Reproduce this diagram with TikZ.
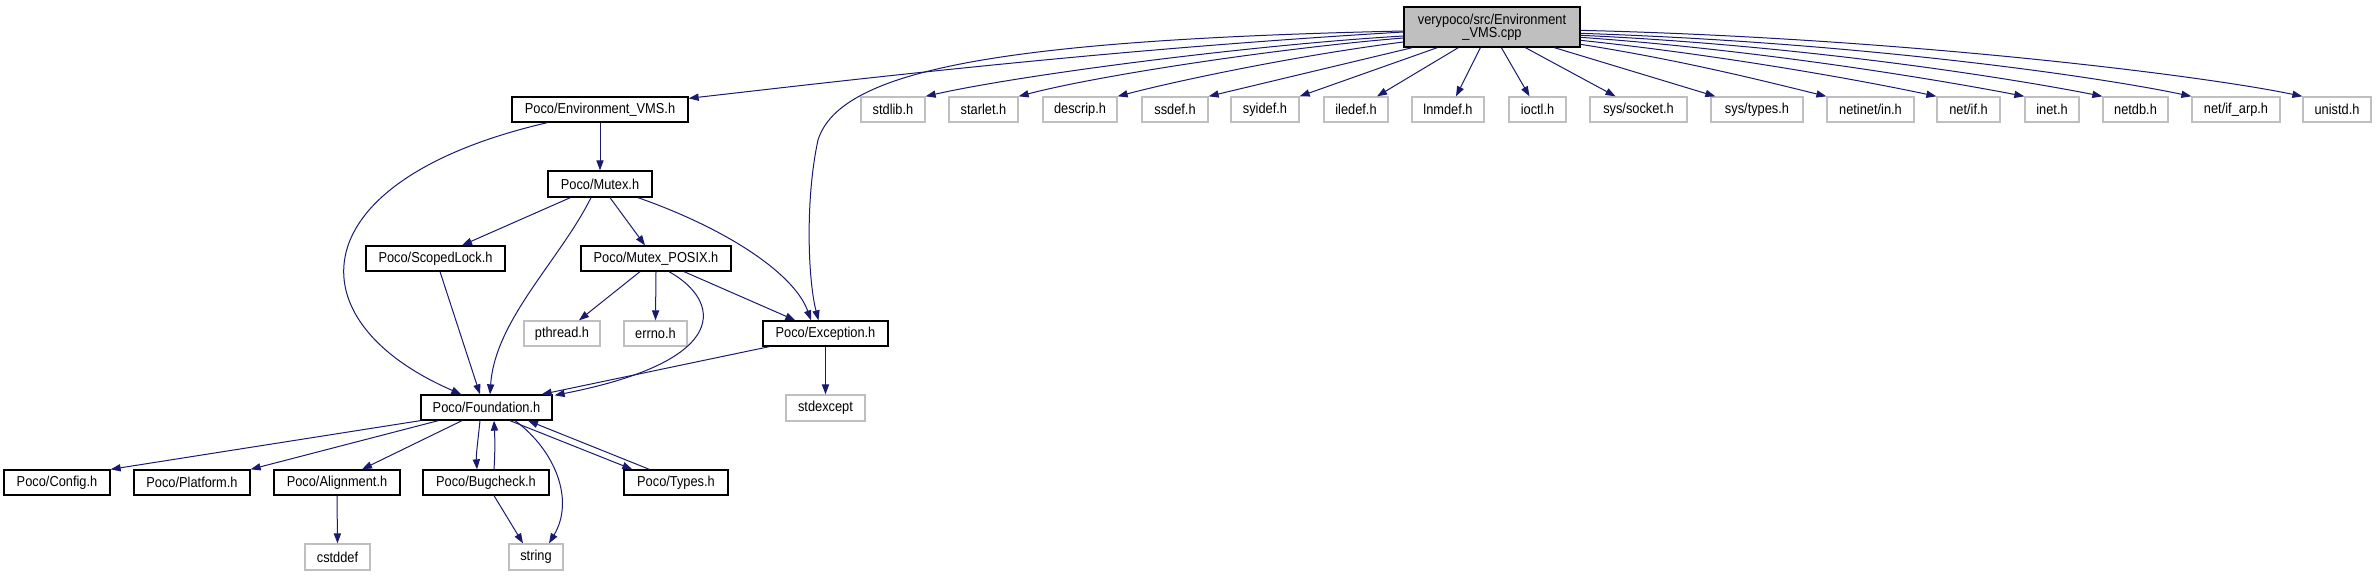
\documentclass[tikz,border=0pt]{standalone}
\usepackage{fontspec}
\setmainfont{Liberation Sans}[FakeStretch=0.89]
\usetikzlibrary{arrows.meta,calc}
\definecolor{edgeblue}{HTML}{191970}
\definecolor{greyline}{HTML}{BFBFBF}
\definecolor{topfill}{HTML}{BFBFBF}
\tikzset{
  nd/.style={draw=black, line width=0.65pt, inner sep=0pt, font=\fontsize{7.2}{6.7}\selectfont, text=black},
  gy/.style={draw=greyline, line width=0.65pt, inner sep=0pt, font=\fontsize{7.2}{6.7}\selectfont, text=black},
  tp/.style={nd, fill=topfill, align=center},
  edge/.style={draw=edgeblue, line width=0.5pt, -{Triangle[length=5pt,width=3.6pt]}}
}
\newcommand\bx[7]{\node[#7, minimum width={(#4-#2)*0.5pt}, minimum height={(#5-#3)*0.5pt}] (#1) at ({(#2+#4)/2},{(#3+#5)/2}) {#6};}
\begin{document}
\begin{tikzpicture}[x=0.5pt,y=-0.5pt]
\useasboundingbox (0,0) rectangle (2376,576);
% nodes
\bx{T}{1404}{7}{1580}{47}{verypoco/src/Environment\\\_VMS.cpp}{tp}
\bx{E}{512}{97}{688}{122}{Poco/Environment\_VMS.h}{nd}
\bx{stdlib}{861}{97}{925}{122}{stdlib.h}{gy}
\bx{starlet}{949}{97}{1018}{122}{starlet.h}{gy}
\bx{descrip}{1043}{97}{1117}{122}{descrip.h}{gy}
\bx{ssdef}{1142}{97}{1208}{122}{ssdef.h}{gy}
\bx{syidef}{1231}{97}{1299}{122}{syidef.h}{gy}
\bx{iledef}{1324}{97}{1388}{122}{iledef.h}{gy}
\bx{lnmdef}{1412}{97}{1484}{122}{lnmdef.h}{gy}
\bx{ioctl}{1509}{97}{1566}{122}{ioctl.h}{gy}
\bx{socket}{1590}{97}{1687}{122}{sys/socket.h}{gy}
\bx{systypes}{1711}{97}{1803}{122}{sys/types.h}{gy}
\bx{netinet}{1827}{97}{1914}{122}{netinet/in.h}{gy}
\bx{netif}{1937}{97}{2000}{122}{net/if.h}{gy}
\bx{inet}{2025}{97}{2079}{122}{inet.h}{gy}
\bx{netdb}{2103}{97}{2168}{122}{netdb.h}{gy}
\bx{ifarp}{2192}{97}{2280}{122}{net/if\_arp.h}{gy}
\bx{unistd}{2303}{97}{2371}{122}{unistd.h}{gy}
\bx{M}{548}{171}{652}{197}{Poco/Mutex.h}{nd}
\bx{S}{366}{246}{505}{271}{Poco/ScopedLock.h}{nd}
\bx{P}{581}{246}{731}{271}{Poco/Mutex\_POSIX.h}{nd}
\bx{pthread}{524}{321}{600}{346}{pthread.h}{gy}
\bx{errno}{624}{321}{687}{346}{errno.h}{gy}
\bx{X}{763}{321}{888}{346}{Poco/Exception.h}{nd}
\bx{F}{421}{395}{552}{420}{Poco/Foundation.h}{nd}
\bx{stdexcept}{786}{395}{865}{421}{stdexcept}{gy}
\bx{Config}{4}{470}{110}{495}{Poco/Config.h}{nd}
\bx{Platform}{134}{470}{250}{495}{Poco/Platform.h}{nd}
\bx{Align}{274}{470}{400}{495}{Poco/Alignment.h}{nd}
\bx{Bug}{423}{470}{549}{495}{Poco/Bugcheck.h}{nd}
\bx{Types}{624}{470}{728}{495}{Poco/Types.h}{nd}
\bx{cstddef}{305}{544}{370}{570}{cstddef}{gy}
\bx{string}{509}{544}{563}{570}{string}{gy}
% edges from top node
\draw[edge] ($(T.west)+(0,5)$) .. controls (1100,50) and (850,80) .. ($(E.north east)+(0,2)$);
\draw[edge] ($(T.west)+(0,4)$) .. controls (1000,40) and (840,70) .. (818,140) .. controls (805,200) and (808,280) .. ($(X.north)+(-7,0)$);
\draw[edge] ($(T.west)+(0,9)$) .. controls (1250,45) and (1020,75) .. (stdlib.north east);
\draw[edge] ($(T.west)+(0,11)$) .. controls (1280,48) and (1100,75) .. (starlet.north east);
\draw[edge] ($(T.west)+(0,15)$) .. controls (1300,55) and (1180,80) .. (descrip.north east);
\draw[edge] ($(T.south west)+(9,0)$) -- (ssdef.north east);
\draw[edge] ($(T.south west)+(34,0)$) -- (syidef.north east);
\draw[edge] ($(T.south west)+(55,0)$) -- ($(iledef.north)+(21,0)$);
\draw[edge] ($(T.south west)+(77,0)$) -- ($(lnmdef.north)+(8,0)$);
\draw[edge] ($(T.south west)+(98,0)$) -- ($(ioctl.north)+(-8,0)$);
\draw[edge] ($(T.south west)+(122,0)$) -- ($(socket.north)+(-23,0)$);
\draw[edge] ($(T.south west)+(151,0)$) -- ($(systypes.north west)+(5,0)$);
\draw[edge] ($(T.north east)+(0,38)$) .. controls (1680,60) and (1760,80) .. (netinet.north west);
\draw[edge] ($(T.north east)+(0,34)$) .. controls (1720,55) and (1860,80) .. (netif.north west);
\draw[edge] ($(T.north east)+(0,31)$) .. controls (1760,50) and (1940,80) .. (inet.north west);
\draw[edge] ($(T.north east)+(0,29)$) .. controls (1800,45) and (2010,78) .. (netdb.north west);
\draw[edge] ($(T.north east)+(0,27)$) .. controls (1850,42) and (2090,75) .. (ifarp.north west);
\draw[edge] ($(T.north east)+(0,24)$) .. controls (1900,38) and (2200,75) .. (unistd.north west);
% Environment_VMS.h
\draw[edge] (E.south) -- (M.north);
\draw[edge] ($(E.south west)+(36,0)$) .. controls (300,180) and (290,320) .. ($(F.north west)+(41,0)$);
% Mutex.h
\draw[edge] ($(M.south west)+(23,0)$) -- ($(S.north)+(26.5,0)$);
\draw[edge] ($(M.south)+(-9,0)$) .. controls (560,260) and (495,320) .. ($(F.north)+(3.5,0)$);
\draw[edge] ($(M.south)+(10,0)$) -- ($(P.north)+(-11,0)$);
\draw[edge] ($(M.south)+(38,0)$) .. controls (730,230) and (795,275) .. ($(X.north)+(-14.5,0)$);
% ScopedLock.h
\draw[edge] ($(S.south)+(4.5,0)$) -- ($(F.north)+(-6.5,0)$);
% Mutex_POSIX.h
\draw[edge] ($(P.south)+(-16,0)$) -- ($(pthread.north)+(17,0)$);
\draw[edge] (P.south) -- (errno.north);
\draw[edge] ($(P.south)+(13,0)$) .. controls (720,300) and (735,360) .. ($(F.north east)+(2,1)$);
\draw[edge] ($(P.south)+(28,0)$) -- ($(X.north west)+(33,0)$);
% Exception.h
\draw[edge] ($(X.south west)+(7,0)$) -- ($(F.north east)+(-11,0)$);
\draw[edge] (X.south) -- (stdexcept.north);
% Foundation.h
\draw[edge] (F.south west) -- (Config.north east);
\draw[edge] ($(F.south west)+(18,0)$) -- (Platform.north east);
\draw[edge] ($(F.south)+(-24.5,0)$) -- ($(Align.north)+(25,0)$);
\draw[edge] ($(F.south)+(-6.5,0)$) .. controls (478,440) and (476,455) .. ($(Bug.north)+(-9,0)$);
\draw[edge] ($(Bug.north)+(8,0)$) .. controls (495,455) and (495,440) .. ($(F.south)+(7.5,0)$);
\draw[edge] ($(F.south)+(23.5,0)$) -- ($(Types.north west)+(9,0)$);
\draw[edge] ($(Types.north west)+(26,0)$) -- ($(F.south)+(41.5,0)$);
\draw[edge] ($(F.south)+(28.5,0)$) .. controls (555,450) and (575,500) .. ($(string.north)+(13,0)$);
\draw[edge] ($(Bug.south)+(8,0)$) -- ($(string.north)+(-13,0)$);
\draw[edge] (Align.south) -- (cstddef.north);
\end{tikzpicture}
\end{document}
